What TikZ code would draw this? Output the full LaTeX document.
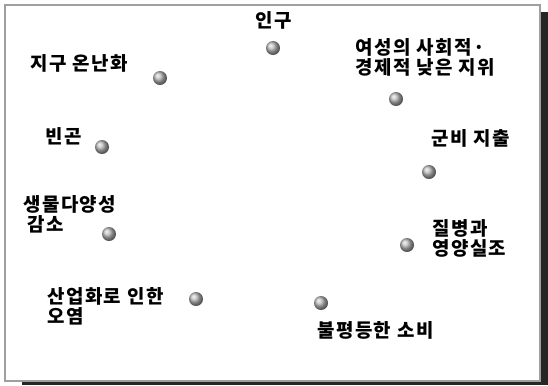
\documentclass[tikz,border=0pt]{standalone}
\usepackage{fontspec}
\newfontfamily\kofont{Noto Sans CJK KR}[LetterSpace=8]
\usetikzlibrary{positioning}

\tikzset{
  issue/.style={circle, inner sep=0pt, minimum size=14bp, shading=ball, ball color=gray!55},
  issuetext/.style={font=\kofont\bfseries\fontsize{19}{20}\selectfont, inner sep=0pt, align=left, text=black},
}

\begin{document}
\begin{tikzpicture}[x=1bp, y=-1bp]
    \useasboundingbox (0,0) rectangle (548,385);

    % frame with its shadow
    \fill[black!85] (22,12) rectangle (548,385);
    \draw[fill=white, draw=gray!75, line width=2.5bp] (5,5) rectangle (540,381);

    % the issues as points
    \foreach \n/\x/\y in {pop/273/48, warm/160/78, women/396/99, pov/102/147,
                          arms/429/172, bio/109/234, ill/407/245,
                          poll/196/299, cons/321/303} {
        \node[issue] (\n) at (\x,\y) {};
    };

    % labels of the issues
    \node[issuetext] (poptxt) at (274, 20) {인구};
    \node[issuetext, anchor=west] (warmtxt) at (30, 63) {지구 온난화};
    \node[issuetext, anchor=west] (womentxt) at (355, 57) {여성의 사회적·\\경제적 낮은 지위};
    \node[issuetext, anchor=west] (povtxt) at (45, 136) {빈곤};
    \node[issuetext, anchor=west] (armstxt) at (431, 138) {군비 지출};
    \node[issuetext, anchor=west] (biotxt) at (23, 214) {생물다양성\\\hspace*{4bp}감소};
    \node[issuetext, anchor=west] (illtxt) at (432, 238) {질병과\\영양실조};
    \node[issuetext, anchor=west] (polltxt) at (47, 306) {산업화로 인한\\오염};
    \node[issuetext, anchor=west] (constxt) at (317, 330) {불평등한 소비};
\end{tikzpicture}
\end{document}
